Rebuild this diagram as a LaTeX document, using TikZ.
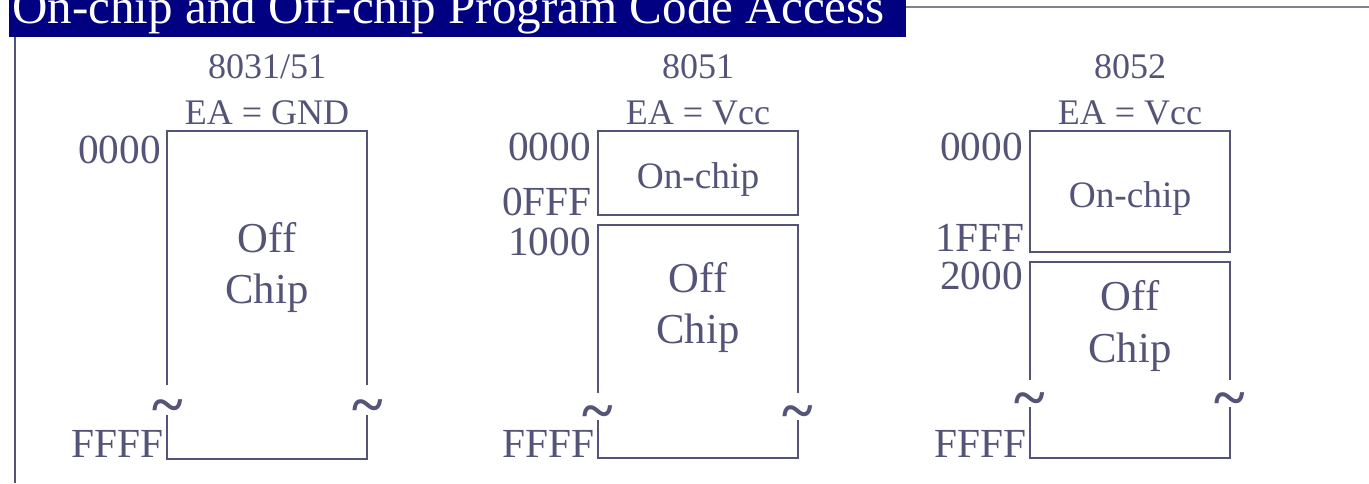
\documentclass[tikz,border=0pt]{standalone}
\usepackage{fontspec}
\setmainfont{Liberation Serif}
\usetikzlibrary{positioning}
\definecolor{TitleNavy}{RGB}{0, 0, 128}
\definecolor{SlateInk}{RGB}{84, 84, 120}
\definecolor{RuleGray}{RGB}{128, 128, 148}
\tikzset{
  wall/.style={draw=SlateInk, line width=1.5pt},
  addr/.style={anchor=base east, inner sep=0pt, text=SlateInk,
    font=\fontsize{31}{31}\selectfont},
  head/.style={anchor=base, inner sep=0pt, text=SlateInk,
    font=\fontsize{27}{27}\selectfont},
  region/.style={anchor=base, inner sep=0pt, text=SlateInk,
    font=\fontsize{32}{32}\selectfont},
  onchip/.style={region, font=\fontsize{28}{28}\selectfont},
  brk/.style={anchor=base, inner sep=0pt, text=SlateInk,
    font=\fontsize{44}{44}\selectfont\bfseries},
}

\begin{document}
\begin{tikzpicture}[x=0.75pt, y=-0.75pt]
    \useasboundingbox (0,0) rectangle (1369,483);
    % title bar
    \fill[TitleNavy] (9,0) rectangle (906,37);
    \node[anchor=base west, inner sep=0pt, text=white,
      font=\fontsize{36.8}{37}\selectfont] (title) at (12,23)
      {On-chip and Off-chip Program Code Access};
    \coordinate (barR) at (906,7);
    \coordinate (pageR) at (1369,7);
    \draw[RuleGray, line width=1.5pt] (barR) -- (pageR);
    \coordinate (edgeT) at (15,37);
    \coordinate (edgeB) at (15,483);
    \draw[SlateInk, line width=1.2pt] (edgeT) -- (edgeB);

    % 8031/51
    \node[head] (h1) at (267,78) {8031/51};
    \node[head] (ea1) at (267,124) {EA = GND};
    \draw[wall] (167,385) -- (167,131) -- (367,131) -- (367,385);
    \draw[wall] (167,415) -- (167,459) -- (367,459) -- (367,415);
    \node[brk] (t1a) at (168,424) {\textasciitilde};
    \node[brk] (t1b) at (368,424) {\textasciitilde};
    \node[addr] (a1top) at (161,163) {0000};
    \node[addr] (a1end) at (164,457) {FFFF};
    \node[region] (off1) at (267,252) {Off};
    \node[region] (chip1) at (267,303) {Chip};

    % 8051
    \node[head] (h2) at (698,78) {8051};
    \node[head] (ea2) at (698,124) {EA = Vcc};
    \draw[wall] (598,131) rectangle (798,215);
    \node[onchip] (on2) at (698,188) {On-chip};
    \draw[wall] (598,393) -- (598,225) -- (798,225) -- (798,393);
    \draw[wall] (598,420) -- (598,458) -- (798,458) -- (798,420);
    \node[brk] (t2a) at (598,430) {\textasciitilde};
    \node[brk] (t2b) at (798,430) {\textasciitilde};
    \node[addr] (a2top) at (591,160) {0000};
    \node[addr] (a2mid) at (592,215) {0FFF};
    \node[addr] (a2off) at (591,255) {1000};
    \node[addr] (a2end) at (595,457) {FFFF};
    \node[region] (off2) at (698,292) {Off};
    \node[region] (chip2) at (698,343) {Chip};

    % 8052
    \node[head] (h3) at (1130,78) {8052};
    \node[head] (ea3) at (1130,124) {EA = Vcc};
    \draw[wall] (1030,131) rectangle (1230,252);
    \node[onchip] (on3) at (1130,207) {On-chip};
    \draw[wall] (1030,380) -- (1030,262) -- (1230,262) -- (1230,380);
    \draw[wall] (1030,407) -- (1030,458) -- (1230,458) -- (1230,407);
    \node[brk] (t3a) at (1030,417) {\textasciitilde};
    \node[brk] (t3b) at (1230,417) {\textasciitilde};
    \node[addr] (a3top) at (1023,160) {0000};
    \node[addr] (a3mid) at (1025,251) {1FFF};
    \node[addr] (a3off) at (1023,289) {2000};
    \node[addr] (a3end) at (1027,457) {FFFF};
    \node[region] (off3) at (1130,310) {Off};
    \node[region] (chip3) at (1130,362) {Chip};
  \end{tikzpicture}
\end{document}
